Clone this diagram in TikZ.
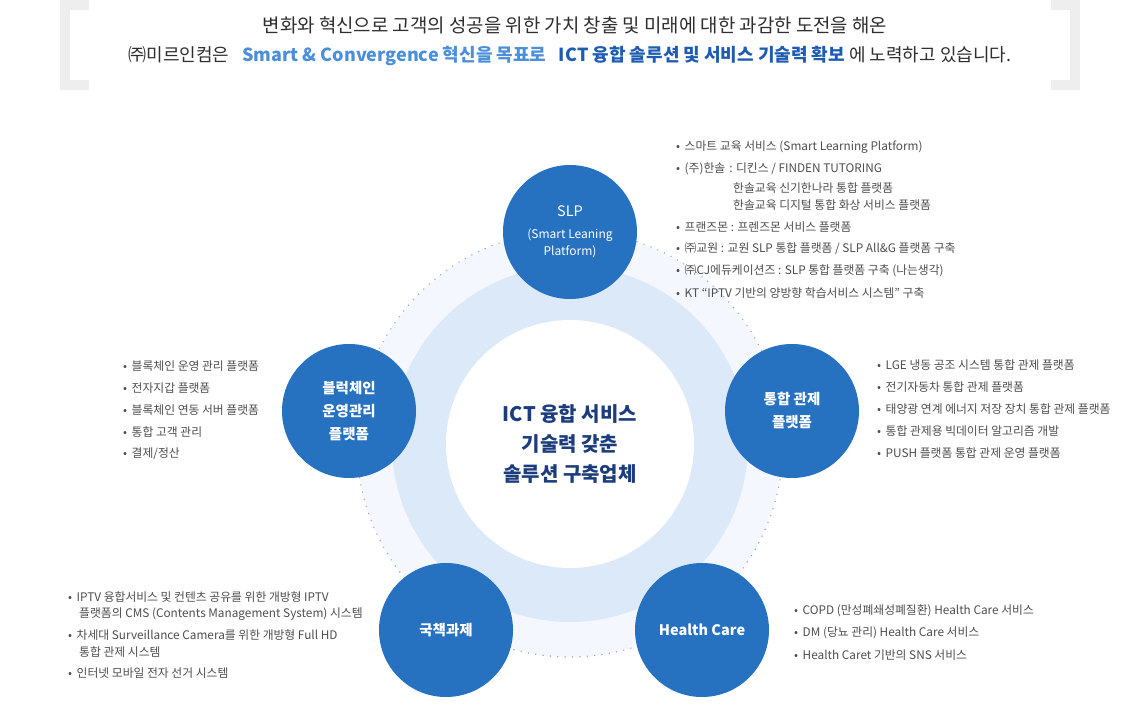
\documentclass[tikz,border=0pt]{standalone}
\usepackage{fontspec}
\setmainfont{Noto Sans CJK KR}

\definecolor{hdrgray}{HTML}{EEEEEE}
\definecolor{bubblue}{HTML}{2671C0}
\definecolor{navy}{HTML}{1C3D7D}
\definecolor{txtgray}{HTML}{2E2E2E}
\definecolor{listgray}{HTML}{4D4D4D}
\definecolor{skyblue}{HTML}{4B8FDB}
\definecolor{deepblue}{HTML}{1E5CB3}
\definecolor{ringblue}{HTML}{DCE9F8}
\definecolor{paleblue}{HTML}{F4F8FE}
\definecolor{dotgray}{HTML}{A3AAB2}

\tikzset{
  bubble/.style={circle, fill=bubblue, minimum size=134pt, inner sep=0pt,
    text=white, align=center, font=\bfseries\fontsize{14.5}{23}\selectfont},
  item/.style={anchor=west, inner sep=0pt, text=listgray,
    font=\fontsize{11.8}{14}\selectfont},
  headline/.style={text=txtgray, font=\fontsize{18.9}{22}\selectfont},
  dotring/.style={dotgray, line width=1.6pt, line cap=round,
    dash pattern=on 0pt off 7.4pt},
}
\newcommand\bul{•\hspace{4.5pt}}

\begin{document}
\begin{tikzpicture}[x=1pt,y=-1pt]
  \useasboundingbox (0,0) rectangle (1140,708);
  % header brackets
  \fill[hdrgray] (60,0) rectangle (1080,90);
  \fill[white] (70,10) rectangle (1070,80);
  \fill[white] (89,0) rectangle (1051,90);
  \node[headline] (head1) at (575,25)
    {변화와 혁신으로 고객의 성공을 위한 가치 창출 및 미래에 대한 과감한 도전을 해온};
  \node[headline, font=\fontsize{18}{22}\selectfont] (head2) at (570,56)
    {㈜미르인컴은\hspace{0.7em}\textcolor{skyblue}{\bfseries Smart \& Convergence 혁신을 목표로}\hspace{0.7em}\textcolor{deepblue}{\bfseries ICT 융합 솔루션 및 서비스 기술력 확보} 에 노력하고 있습니다.};
  %
  \coordinate (hub) at (570,444);
  \fill[paleblue] (hub) circle (213pt);
  \draw[dotring] (hub) circle (213pt);
  \fill[ringblue] (hub) circle (178pt);
  \fill[white] (hub) circle (124pt);
  \node[text=navy, align=center, font=\bfseries\fontsize{20}{30}\selectfont] (core) at (hub)
    {ICT 융합 서비스\\기술력 갖춘\\솔루션 구축업체};
  %
  \node[bubble, font=\fontsize{12}{17}\selectfont] (slp) at (570,232)
    {{\fontsize{14.5}{17}\selectfont SLP}\\[5pt](Smart Leaning\\Platform)};
  \node[bubble] (chain) at (349,411) {블럭체인\\운영관리\\플랫폼};
  \node[bubble] (ctrl) at (792,411) {통합 관제\\플랫폼};
  \node[bubble] (natl) at (446,630) {국책과제};
  \node[bubble] (health) at (702,630) {Health Care};
  %
  % SLP
  \node[item] (slp1) at (676,147) {\bul 스마트 교육 서비스 (Smart Learning Platform)};
  \node[item] (slp2) at (676,169) {\bul (주)한솔\hspace{4pt}: 디킨스 / FINDEN TUTORING};
  \node[item] (slp3) at (733,188) {한솔교육 신기한나라 통합 플랫폼};
  \node[item] (slp4) at (733,205) {한솔교육 디지털 통합 화상 서비스 플랫폼};
  \node[item] (slp5) at (676,227) {\bul 프랜즈몬 : 프렌즈몬 서비스 플랫폼};
  \node[item] (slp6) at (676,249) {\bul ㈜교원 : 교원 SLP 통합 플랫폼 / SLP All\&G 플랫폼 구축};
  \node[item] (slp7) at (676,271) {\bul ㈜CJ에듀케이션즈 : SLP 통합 플랫폼 구축 (나는생각)};
  \node[item] (slp8) at (676,293) {\bul KT “IPTV 기반의 양방향 학습서비스 시스템” 구축};
  % blockchain
  \node[item] (chain1) at (123,366) {\bul 블록체인 운영 관리 플랫폼};
  \node[item] (chain2) at (123,388) {\bul 전자지갑 플랫폼};
  \node[item] (chain3) at (123,410) {\bul 블록체인 연동 서버 플랫폼};
  \node[item] (chain4) at (123,432) {\bul 통합 고객 관리};
  \node[item] (chain5) at (123,454) {\bul 결제/정산};
  % control
  \node[item] (ctrl1) at (877,365) {\bul LGE 냉동 공조 시스템 통합 관제 플랫폼};
  \node[item] (ctrl2) at (877,387) {\bul 전기자동차 통합 관제 플랫폼};
  \node[item] (ctrl3) at (877,409) {\bul 태양광 연계 에너지 저장 장치 통합 관제 플랫폼};
  \node[item] (ctrl4) at (877,431) {\bul 통합 관제용 빅데이터 알고리즘 개발};
  \node[item] (ctrl5) at (877,453) {\bul PUSH 플랫폼 통합 관제 운영 플랫폼};
  % national
  \node[item] (natl1) at (68,597) {\bul IPTV 융합서비스 및 컨텐츠 공유를 위한 개방형 IPTV};
  \node[item] (natl2) at (79,614) {플랫폼의 CMS (Contents Management System) 시스템};
  \node[item] (natl3) at (68,635) {\bul 차세대 Surveillance Camera를 위한 개방형 Full HD};
  \node[item] (natl4) at (79,652) {통합 관제 시스템};
  \node[item] (natl5) at (68,673) {\bul 인터넷 모바일 전자 선거 시스템};
  % health
  \node[item] (health1) at (794,611) {\bul COPD (만성폐쇄성폐질환) Health Care 서비스};
  \node[item] (health2) at (794,633) {\bul DM (당뇨 관리) Health Care 서비스};
  \node[item] (health3) at (794,655) {\bul Health Caret 기반의 SNS 서비스};
\end{tikzpicture}
\end{document}
